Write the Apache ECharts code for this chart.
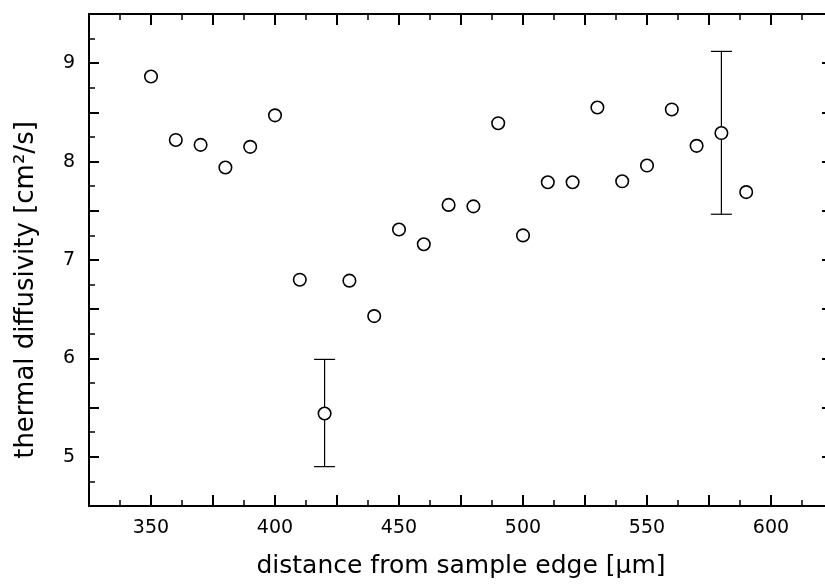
<!DOCTYPE html>
<html>
<head>
<meta charset="utf-8">
<script src="https://cdn.jsdelivr.net/npm/echarts@6/dist/echarts.min.js"></script>
<style>html,body{margin:0;padding:0;background:#fff;overflow:hidden;}#c{width:825px;height:584px;}</style>
</head>
<body>
<div id="c"></div>
<script>
var distance = [350,360,370,380,390,400,410,420,430,440,450,460,470,480,490,500,510,520,530,540,550,560,570,580,590];
var diffusivity = [8.865,8.22,8.17,7.94,8.15,8.47,6.80,5.44,6.79,6.43,7.31,7.16,7.56,7.545,8.39,7.25,7.79,7.79,8.55,7.80,7.96,8.53,8.16,8.29,7.69];
var errX = [420, 580];
var errLow = [4.90, 7.465];
var errHigh = [5.99, 9.12];
var xTitle = 'distance from sample edge [µm]';
var yTitle = 'thermal diffusivity [cm²/s]';

var FONT = 'DejaVu Sans';
var pts = distance.map(function(x,i){return [x, diffusivity[i]];});
var errData = errX.map(function(x,i){return [x, errLow[i], errHigh[i]];});

function axisCommon(show){
  return {
    axisLine:{show:true, lineStyle:{color:'#000', width:2}},
    axisTick:{show:true, inside:true, length:11, lineStyle:{color:'#000', width:2}},
    minorTick:{show:true, splitNumber:2, length:6, lineStyle:{color:'#000', width:1.5}},
    splitLine:{show:false},
    axisLabel:{show:show}
  };
}

var chart = echarts.init(document.getElementById('c'), null, {renderer:'canvas'});
chart.setOption({
  animation:false,
  backgroundColor:'#fff',
  grid:{left:89, right:-8, top:14, bottom:78, containLabel:false, outerBoundsMode:'none'},
  xAxis:[
    Object.assign(axisCommon(true), {
      type:'value', min:325, max:625, interval:25, position:'bottom',
      axisLabel:{show:true, margin:13, color:'#000', fontFamily:FONT, fontSize:19,
        formatter:function(v){return v%50===0 ? String(v) : '';}},
      name:xTitle, nameLocation:'middle', nameGap:48,
      nameTextStyle:{color:'#000', fontFamily:FONT, fontSize:25}
    }),
    Object.assign(axisCommon(false), {
      type:'value', min:325, max:625, interval:25, position:'top'
    })
  ],
  yAxis:[
    Object.assign(axisCommon(true), {
      type:'value', min:4.5, max:9.5, interval:0.5, position:'left',
      axisTick:{show:true, inside:true, length:10, lineStyle:{color:'#000', width:2}},
      axisLabel:{show:true, margin:14, color:'#000', fontFamily:FONT, fontSize:19,
        formatter:function(v){return Math.abs(v-Math.round(v))<1e-6 ? String(Math.round(v)) : '';}},
      name:yTitle, nameLocation:'middle', nameGap:50,
      nameTextStyle:{color:'#000', fontFamily:FONT, fontSize:26, padding:[0,60,0,0]}
    }),
    Object.assign(axisCommon(false), {
      type:'value', min:4.5, max:9.5, interval:0.5, position:'right'
    })
  ],
  series:[
    {
      type:'custom',
      xAxisIndex:0, yAxisIndex:0,
      data:errData,
      z:1,
      renderItem:function(params, api){
        var x = api.value(0);
        var lo = api.coord([x, api.value(1)]);
        var hi = api.coord([x, api.value(2)]);
        var w = 10.5;
        var st = {stroke:'#000', lineWidth:1.2};
        return {type:'group', children:[
          {type:'line', shape:{x1:lo[0], y1:lo[1], x2:hi[0], y2:hi[1]}, style:st},
          {type:'line', shape:{x1:lo[0]-w, y1:lo[1], x2:lo[0]+w, y2:lo[1]}, style:st},
          {type:'line', shape:{x1:hi[0]-w, y1:hi[1], x2:hi[0]+w, y2:hi[1]}, style:st}
        ]};
      }
    },
    {
      type:'scatter',
      xAxisIndex:0, yAxisIndex:0,
      data:pts,
      z:5,
      symbol:'circle',
      symbolSize:12.5,
      itemStyle:{color:'#fff', borderColor:'#000', borderWidth:1.6, opacity:1}
    }
  ]
});
</script>
</body>
</html>
